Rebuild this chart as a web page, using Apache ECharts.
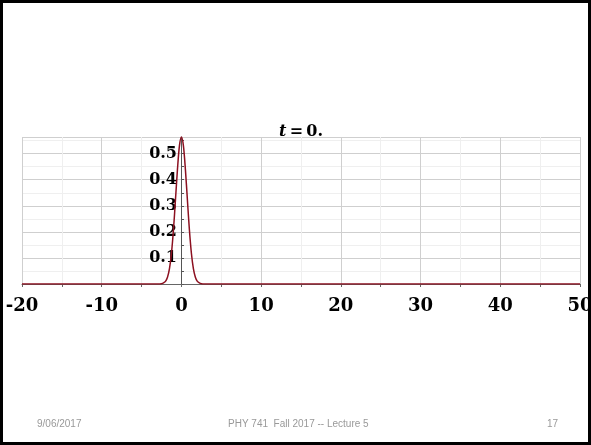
<!DOCTYPE html>
<html>
<head>
<meta charset="utf-8">
<script src="https://cdn.jsdelivr.net/npm/echarts@6/dist/echarts.min.js"></script>
<style>
html, body { margin: 0; padding: 0; background: #fff; }
#main { position: absolute; left: 0; top: 0; width: 591px; height: 445px; }
#frame { position: absolute; left: 0; top: 0; width: 591px; height: 445px;
  box-sizing: border-box; border: 3px solid #000; pointer-events: none; }
</style>
</head>
<body>
<div id="main"></div>
<div id="frame"></div>
<script>
// curve (t = 0)
var xVals = [-20, -3, -2.75, -2.5, -2.25, -2, -1.75, -1.5, -1.25, -1, -0.75, -0.5, -0.25,
	0, 0.25, 0.5, 0.75, 1, 1.25, 1.5, 1.75, 2, 2.25, 2.5, 2.75, 3, 50];
var yVals = [0, 0, 0.0003, 0.001, 0.004, 0.010, 0.026, 0.059, 0.118, 0.208, 0.322, 0.439, 0.530,
	0.564, 0.530, 0.439, 0.322, 0.208, 0.118, 0.059, 0.026, 0.010, 0.004, 0.001, 0.0003, 0, 0];
var xTicks = [-20, -10, 0, 10, 20, 30, 40, 50];
var yTicks = [0.1, 0.2, 0.3, 0.4, 0.5];
var footer = ['9/06/2017', 'PHY 741  Fall 2017 -- Lecture 5', '17'];

var pts = [];
for (var i = 0; i < xVals.length; i++) {
	pts.push([xVals[i], yVals[i]]);
}

function near(list, v) {
	for (var k = 0; k < list.length; k++) {
		if (Math.abs(list[k] - v) < 1e-6) return true;
	}
	return false;
}

var labelFont = 'DejaVu Serif';
var footStyle = { fontFamily: 'Liberation Sans', fontSize: 10, fill: '#999' };
var gridLeft = 22, gridRight = 11;
var plotW = 591 - gridLeft - gridRight;
// y axis sits on x = 0
var yOffset = -Math.round(plotW * 20 / 70);

var option = {
	animation: false,
	title: {
		text: '{i|t}\u2009=\u20090.',
		left: 296, top: 119,
		textAlign: 'center',
		textStyle: {
			fontFamily: labelFont, fontSize: 16, fontWeight: 'bold', color: '#000',
			rich: { i: { fontFamily: labelFont, fontSize: 16, fontWeight: 'bold', fontStyle: 'italic', color: '#000' } }
		}
	},
	grid: { left: gridLeft, right: gridRight, top: 137, bottom: 161, outerBoundsMode: 'none', containLabel: false },
	xAxis: {
		type: 'value', min: -20, max: 50, interval: 5,
		axisLine: { onZero: false, lineStyle: { color: '#666', width: 1 } },
		axisTick: { show: true, length: 3, lineStyle: { color: '#666' } },
		axisLabel: {
			margin: 13,
			fontFamily: labelFont, fontSize: 18, fontWeight: 'bold', color: '#000',
			formatter: function (v) {
				if (!near(xTicks, v)) return '';
				return v < 0 ? '-' + (-v) : String(v);
			}
		},
		splitLine: { show: true, lineStyle: { color: ['#cfcfcf', '#efefef'], width: 1 } }
	},
	yAxis: {
		type: 'value', min: 0, max: 0.564, interval: 0.05,
		offset: yOffset,
		axisLine: { show: true, onZero: false, lineStyle: { color: '#555', width: 1 } },
		axisTick: { show: true, inside: true, length: 3, lineStyle: { color: '#555' } },
		axisLabel: {
			margin: 4,
			fontFamily: labelFont, fontSize: 16, fontWeight: 'bold', color: '#000',
			showMaxLabel: false,
			formatter: function (v) {
				return near(yTicks, v) ? v.toFixed(1) : '';
			}
		},
		splitLine: { show: true, lineStyle: { color: ['#cfcfcf', '#efefef'], width: 1 } }
	},
	graphic: [
		{ type: 'text', left: 37, top: 419, style: Object.assign({ text: footer[0] }, footStyle) },
		{ type: 'text', left: 228, top: 419, style: Object.assign({ text: footer[1] }, footStyle) },
		{ type: 'text', left: 547, top: 419, style: Object.assign({ text: footer[2] }, footStyle) }
	],
	series: [{
		type: 'line',
		data: pts,
		showSymbol: false,
		smooth: 0.3,
		lineStyle: { color: '#8c1020', width: 1.5 },
		z: 5
	}]
};

var myChart = echarts.init(document.getElementById('main'));
myChart.setOption(option);
</script>
</body>
</html>
